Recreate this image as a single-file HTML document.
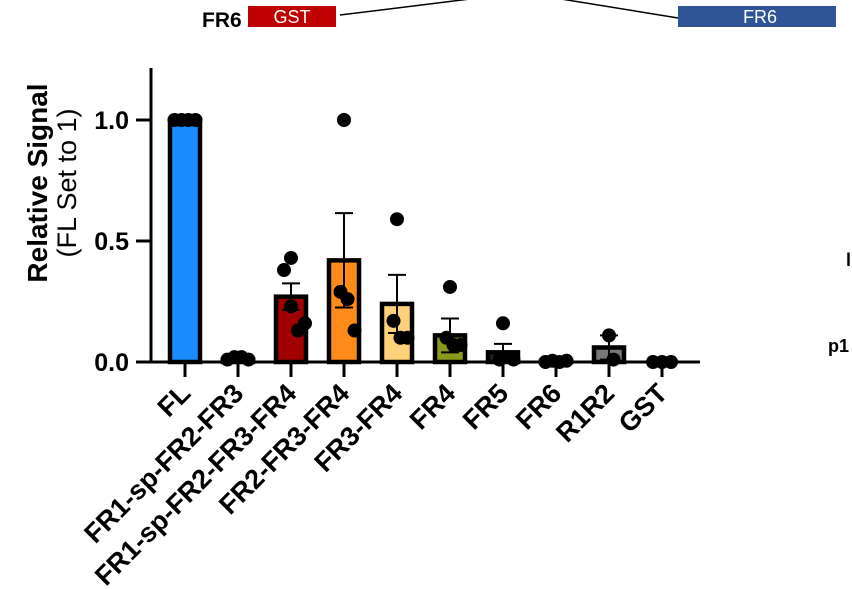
<!DOCTYPE html>
<html><head><meta charset="utf-8"><style>
html,body{margin:0;padding:0;background:#fff;}
svg{display:block;font-family:"Liberation Sans",Arial,sans-serif;}
</style></head><body>
<svg id="chart" width="852" height="589" viewBox="0 0 852 589">
  <g>
    <text x="202" y="27" font-size="21" font-weight="bold">FR6</text>
    <rect x="248" y="6" width="88" height="21" fill="#c00000"/>
    <text x="292" y="23" font-size="18" fill="#fff" text-anchor="middle">GST</text>
    <line x1="340" y1="15" x2="478" y2="-2" stroke="#000" stroke-width="1.5"/>
    <line x1="555" y1="-2" x2="678" y2="18" stroke="#000" stroke-width="1.5"/>
    <rect x="678" y="6" width="158" height="21" fill="#2f5597"/>
    <text x="760" y="23" font-size="18" fill="#fff" text-anchor="middle">FR6</text>
  </g>
  <text x="846" y="266" font-size="18" font-weight="bold">l</text>
  <text x="828" y="352" font-size="18" font-weight="bold">p1</text>
  <g>
    <text transform="translate(47,183) rotate(-90)" text-anchor="middle" font-size="28" font-weight="bold">Relative Signal</text>
    <text transform="translate(76,183) rotate(-90)" text-anchor="middle" font-size="27">(FL Set to 1)</text>
  </g>
  <g id="plot"></g>
</svg>
<script>
const categories = ["FL","FR1-sp-FR2-FR3","FR1-sp-FR2-FR3-FR4","FR2-FR3-FR4","FR3-FR4","FR4","FR5","FR6","R1R2","GST"];
const means = [1.0, 0.01, 0.27, 0.42, 0.24, 0.11, 0.04, 0.005, 0.06, 0.0];
const errors = [0, 0, 0.055, 0.195, 0.12, 0.07, 0.035, 0, 0.05, 0];
const points = [[1,1,1,1],[0.01,0.02,0.02,0.01],[0.43,0.38,0.23,0.13,0.16],[1.0,0.29,0.26,0.13],[0.59,0.17,0.1,0.1],[0.31,0.1,0.07,0.07],[0.16,0.01,0.02,0.01],[0,0.005,0,0.005],[0.11,0.01],[0,0,0]];
const colors = ["#1a8cff","#ffffff","#a00000","#ff8c1a","#ffd27a","#8a9a1a","#222222","#ffffff","#777777","#ffffff"];
const yTicks = [0, 0.5, 1.0];
const yTickLabels = ["0.0","0.5","1.0"];

const NS = "http://www.w3.org/2000/svg";
const g = document.getElementById('plot');
const y0 = 362, yPer = 242, x0 = 185, step = 53, bw = 30;
const ys = v => y0 - v * yPer;
const xs = i => x0 + i * step;
function mk(tag, attrs, parent){const e=document.createElementNS(NS,tag);for(const k in attrs)e.setAttribute(k,attrs[k]);(parent||g).appendChild(e);return e;}

categories.forEach((c,i)=>{
  const top = ys(means[i]);
  const r = mk('rect',{x:xs(i)-bw/2,y:top,width:bw,height:Math.max(0,y0-top),fill:colors[i],stroke:'#000','stroke-width':4.5});
  
  
});
categories.forEach((c,i)=>{
  if(errors[i]<=0) return;
  const t = ys(means[i]+errors[i]), b = ys(Math.max(0,means[i]-errors[i]));
  const e = mk('path',{d:`M${xs(i)} ${b}V${t}M${xs(i)-9} ${t}H${xs(i)+9}M${xs(i)-9} ${b}H${xs(i)+9}`,stroke:'#000','stroke-width':2,fill:'none'});
  
  
});
categories.forEach((c,i)=>{
  const n = points[i].length;
  const mx = Math.max(...points[i]);
  points[i].forEach((v,j)=>{
    let off = n>1 ? (j-(n-1)/2)*(n>3?7:9) : 0;
    if(v===mx && v>means[i]*1.5 && v>0.05) off = 0;
    const p = mk('circle',{cx:xs(i)+off,cy:ys(v),r:7,fill:'#000'});
    
    
  });
});
const ya = mk('line',{x1:151,y1:68,x2:151,y2:y0+1,stroke:'#000','stroke-width':3});


const xa = mk('line',{x1:150,y1:y0,x2:700,y2:y0,stroke:'#000','stroke-width':3});


yTicks.forEach((v,k)=>{
  const t = mk('line',{x1:136,y1:ys(v),x2:151,y2:ys(v),stroke:'#000','stroke-width':3});
  
  
  const l = mk('text',{x:129,y:ys(v)+9,'text-anchor':'end','font-size':25,'font-weight':'bold'});
  l.textContent = yTickLabels[k];
  
  
});
categories.forEach((c,i)=>{
  const t = mk('line',{x1:xs(i),y1:y0,x2:xs(i),y2:y0+15,stroke:'#000','stroke-width':3});
  
  
  const l = mk('text',{transform:`translate(${xs(i)+7},${y0+33}) rotate(-45)`,'text-anchor':'end','font-size':27,'font-weight':'bold'});
  l.textContent = c;
  
  
});
</script>
</body></html>
